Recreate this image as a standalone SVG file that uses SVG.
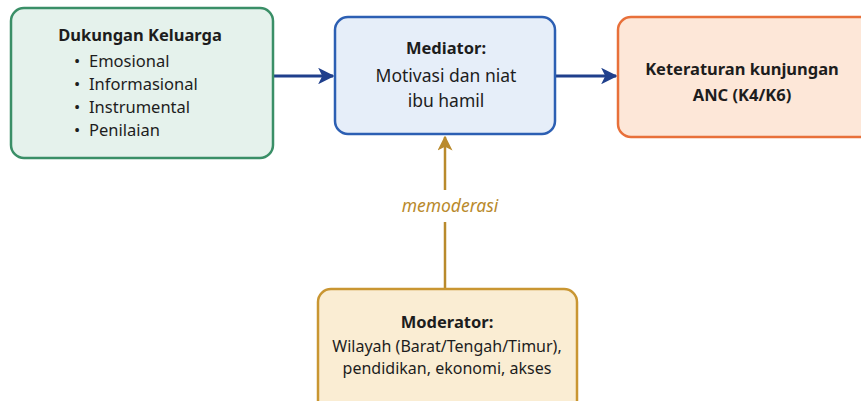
<svg xmlns="http://www.w3.org/2000/svg" width="861" height="401" viewBox="0 0 861 401">
<style>
text{font-family:"Noto Sans","Open Sans","DejaVu Sans",sans-serif;fill:#1d1d1d;}
.t{font-size:16.5px;font-weight:bold;}
.b{font-size:16.5px;}
.m{font-size:16px;}
.c{text-anchor:middle;}
.box{stroke-width:2.5;}
</style>
<defs>
<marker id="ab" viewBox="0 0 10 10" refX="9" refY="5" markerWidth="5.5" markerHeight="5.5" orient="auto" markerUnits="strokeWidth">
<path d="M0,0 L10,5 L0,10 L2.5,5 Z" fill="#1f3f8c"/>
</marker>
<marker id="ag" viewBox="0 0 10 10" refX="9" refY="5" markerWidth="6" markerHeight="6" orient="auto" markerUnits="strokeWidth">
<path d="M0,0 L10,5 L0,10 L2.5,5 Z" fill="#b98a2c"/>
</marker>
</defs>
<rect width="861" height="401" fill="#ffffff"/>
<g id="connectors">
<line x1="274" y1="76" x2="333" y2="76" stroke="#1f3f8c" stroke-width="3" marker-end="url(#ab)"/>
<line x1="556" y1="76" x2="616" y2="76" stroke="#1f3f8c" stroke-width="3" marker-end="url(#ab)"/>
<line x1="445" y1="288" x2="445" y2="222" stroke="#b98a2c" stroke-width="2.5"/>
<line x1="445" y1="190" x2="445" y2="137" stroke="#b98a2c" stroke-width="2.5" marker-end="url(#ag)"/>
<text x="450" y="212" class="c" style="font-size:17.5px;font-style:italic;fill:#b98a2c">memoderasi</text>
</g>
<g id="dukungan">
<rect x="11" y="8" width="262" height="150" rx="13" class="box" fill="#e5f2ec" stroke="#3a8f67"/>
<text x="140" y="41" class="t c">Dukungan Keluarga</text>
<text class="b"><tspan x="74" y="67">•</tspan><tspan x="89" y="67">Emosional</tspan></text>
<text class="b"><tspan x="74" y="90">•</tspan><tspan x="89" y="90">Informasional</tspan></text>
<text class="b"><tspan x="74" y="113">•</tspan><tspan x="89" y="113">Instrumental</tspan></text>
<text class="b"><tspan x="74" y="136">•</tspan><tspan x="89" y="136">Penilaian</tspan></text>
</g>
<g id="mediator">
<rect x="335" y="17" width="220" height="117" rx="13" class="box" fill="#e6eef9" stroke="#2c5fb3"/>
<text x="446" y="54" class="t c">Mediator:</text>
<text x="446" y="82" class="c" style="font-size:17.5px">Motivasi dan niat</text>
<text x="446" y="107" class="c" style="font-size:17.5px">ibu hamil</text>
</g>
<g id="keteraturan">
<rect x="618" y="17" width="260" height="120" rx="13" class="box" fill="#fde7d8" stroke="#e8703a"/>
<text x="742" y="75" class="t c">Keteraturan kunjungan</text>
<text x="742" y="101" class="t c">ANC (K4/K6)</text>
</g>
<g id="moderator">
<rect x="318" y="289" width="259" height="125" rx="13" class="box" fill="#faedd3" stroke="#c99632"/>
<text x="447" y="328" class="t c">Moderator:</text>
<text x="447" y="352" class="m c">Wilayah (Barat/Tengah/Timur),</text>
<text x="447" y="374" class="m c">pendidikan, ekonomi, akses</text>
</g>
</svg>
